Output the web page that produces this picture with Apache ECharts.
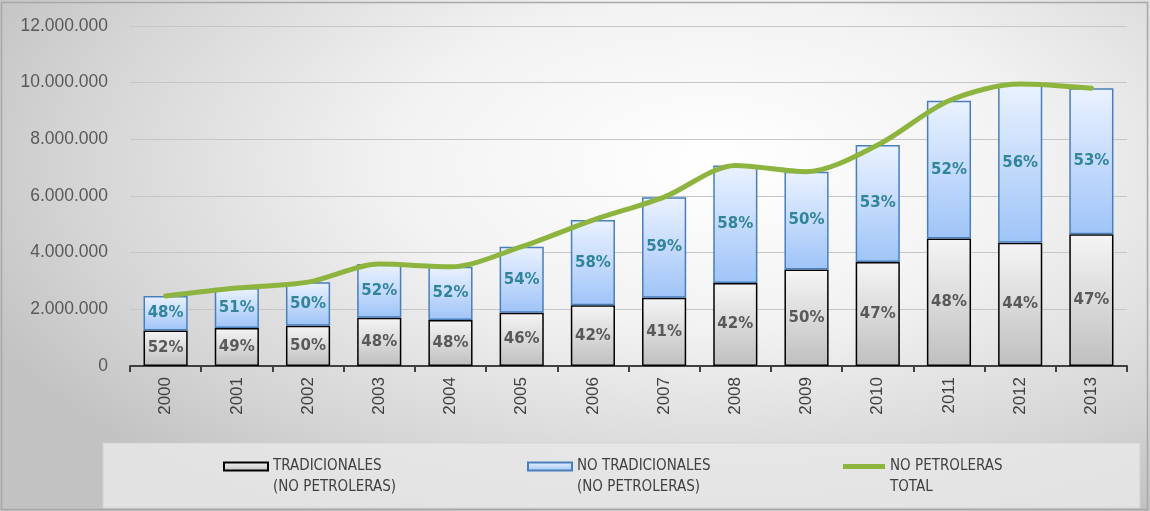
<!DOCTYPE html>
<html>
<head>
<meta charset="utf-8">
<script src="https://cdn.jsdelivr.net/npm/echarts@6/dist/echarts.min.js"></script>
<style>
  html, body { margin: 0; padding: 0; background: #fff; }
  #main {
    width: 1150px; height: 511px;
    background: radial-gradient(ellipse 70% 80% at 62% 32%, #ffffff 0%, #f2f2f2 40%, #d4d4d4 80%, #c2c2c2 100%);
  }
</style>
</head>
<body>
<div id="main"></div>
<script>
const years = ['2000', '2001', '2002', '2003', '2004', '2005', '2006', '2007', '2008', '2009', '2010', '2011', '2012', '2013']
// values
const tradicionales = [1250000, 1340000, 1420000, 1700000, 1620000, 1880000, 2140000, 2410000, 2930000, 3410000, 3670000, 4500000, 4350000, 4650000]
const noTradicionales = [1220000, 1410000, 1540000, 1900000, 1880000, 2330000, 3010000, 3550000, 4150000, 3450000, 4130000, 4860000, 5600000, 5150000]
const totalNoPetroleras = [2470000, 2750000, 2960000, 3600000, 3500000, 4210000, 5150000, 5960000, 7080000, 6860000, 7800000, 9360000, 9950000, 9800000]
const pctTrad = ['52%', '49%', '50%', '48%', '48%', '46%', '42%', '41%', '42%', '50%', '47%', '48%', '44%', '47%']
const pctNoTrad = ['48%', '51%', '50%', '52%', '52%', '54%', '58%', '59%', '58%', '50%', '53%', '52%', '56%', '53%']
const yTicks = [0, 2000000, 4000000, 6000000, 8000000, 10000000, 12000000]

const nameTrad = 'TRADICIONALES\n(NO PETROLERAS)'
const nameNoTrad = 'NO TRADICIONALES\n(NO PETROLERAS)'
const nameTotal = 'NO PETROLERAS\nTOTAL'

const chart = echarts.init(document.getElementById('main'), null, {renderer: 'canvas'})

function fmtMiles(v) {
  return String(v).replace(/\B(?=(\d{3})+(?!\d))/g, '.')
}

const legendFont = '"Liberation Sans Narrow", "DejaVu Sans Condensed", "Liberation Sans", sans-serif'
const legendText = {
  fontFamily: legendFont,
  fontSize: 15,
  color: '#404040',
  rich: {
    e: {fontSize: 15, lineHeight: 21},
    t: {fontSize: 15, lineHeight: 21, color: '#404040', fontFamily: legendFont}
  }
}
// empty first line keeps the icon level with the first text line
function legendFormatter(name) {
  const parts = name.split('\n')
  return '{e| }\n{t|' + parts[0] + '}\n{t|' + parts[1] + '}'
}

const barLabel = {
  show: true,
  position: 'inside',
  fontSize: 15,
  fontWeight: 'bold',
  fontFamily: '"DejaVu Sans", Verdana, sans-serif'
}

const option = {
  animation: false,
  backgroundColor: 'transparent',
  grid: {
    left: 130,
    right: 23,
    top: 26,
    bottom: 145
  },
  legend: [
    {
      data: [{name: nameTrad, icon: 'rect'}],
      left: 218, top: 433,
      itemWidth: 44, itemHeight: 8, itemGap: 2,
      textStyle: legendText, formatter: legendFormatter,
      selectedMode: false
    },
    {
      data: [{name: nameNoTrad, icon: 'rect'}],
      left: 522, top: 433,
      itemWidth: 44, itemHeight: 8,
      textStyle: legendText, formatter: legendFormatter,
      selectedMode: false
    },
    {
      data: [{name: nameTotal, icon: 'rect'}],
      left: 838, top: 433,
      itemWidth: 42, itemHeight: 5,
      textStyle: legendText, formatter: legendFormatter,
      selectedMode: false
    }
  ],
  graphic: [
    {
      type: 'rect', z: 3, silent: true,
      shape: {x: 103, y: 443, width: 1037, height: 65},
      style: {fill: 'rgba(232,232,232,0.85)', stroke: 'rgba(210,210,210,0.9)', lineWidth: 1}
    },
    {
      type: 'rect', z: 10, silent: true,
      shape: {x: 1.5, y: 2.5, width: 1146, height: 507},
      style: {fill: 'none', stroke: '#a8a8a8', lineWidth: 1.5}
    }
  ],
  xAxis: {
    type: 'category',
    data: years,
    boundaryGap: true,
    axisLine: {lineStyle: {color: '#404040', width: 2}},
    axisTick: {show: true, length: 6, lineStyle: {color: '#404040', width: 2}},
    axisLabel: {
      rotate: 90,
      margin: 11,
      color: '#404040',
      fontSize: 17,
      fontFamily: '"Liberation Sans", Arial, sans-serif'
    }
  },
  yAxis: {
    type: 'value',
    min: yTicks[0],
    max: yTicks[yTicks.length - 1],
    interval: yTicks[1] - yTicks[0],
    axisLine: {show: false},
    axisTick: {show: false},
    splitLine: {lineStyle: {color: '#c6c6c6', width: 1.2}},
    axisLabel: {
      margin: 22,
      color: '#595959',
      fontSize: 17.5,
      fontFamily: '"Liberation Sans", Arial, sans-serif',
      formatter: fmtMiles
    }
  },
  series: [
    {
      name: nameTrad,
      type: 'bar',
      stack: 'total',
      barWidth: '62%',
      data: tradicionales,
      itemStyle: {
        color: new echarts.graphic.LinearGradient(0, 0, 0, 1, [
          {offset: 0, color: '#f5f5f5'},
          {offset: 1, color: '#bfbfbf'}
        ]),
        borderColor: '#000000',
        borderWidth: 1.5
      },
      label: Object.assign({}, barLabel, {
        color: '#595959',
        formatter: p => pctTrad[p.dataIndex]
      })
    },
    {
      name: nameNoTrad,
      type: 'bar',
      stack: 'total',
      barWidth: '62%',
      data: noTradicionales,
      itemStyle: {
        color: new echarts.graphic.LinearGradient(0, 0, 0, 1, [
          {offset: 0, color: '#eaf2ff'},
          {offset: 1, color: '#9fc4f8'}
        ]),
        borderColor: '#4a7ebb',
        borderWidth: 1.5
      },
      label: Object.assign({}, barLabel, {
        color: '#31849b',
        formatter: p => pctNoTrad[p.dataIndex]
      })
    },
    {
      name: nameTotal,
      type: 'line',
      data: totalNoPetroleras,
      smooth: 0.3,
      symbol: 'none',
      z: 5,
      color: '#8db43e',
      lineStyle: {color: '#8db43e', width: 5, cap: 'round'}
    }
  ]
}

chart.setOption(option)
</script>
</body>
</html>
